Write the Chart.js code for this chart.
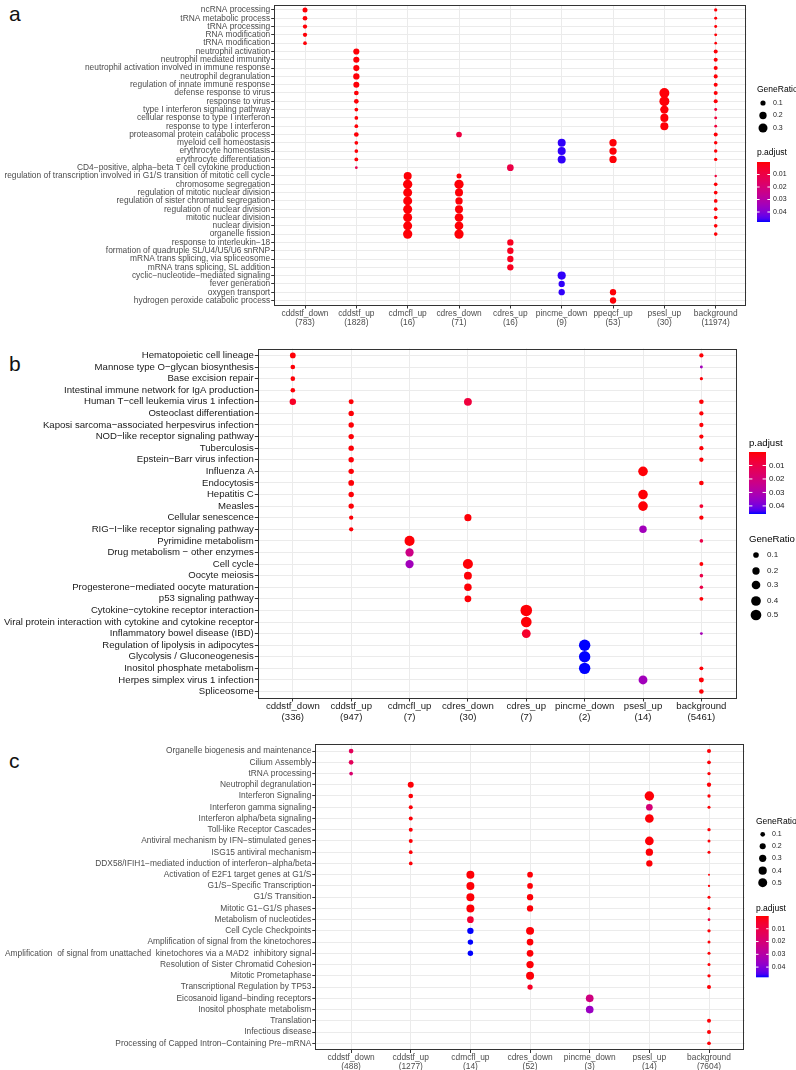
<!DOCTYPE html>
<html>
<head>
<meta charset="utf-8">
<script src="https://cdn.jsdelivr.net/npm/chart.js@4.4.0/dist/chart.umd.min.js"></script>
<style>
  body { margin: 0; background: #fff; width: 796px; height: 1070px; position: relative; overflow: hidden; }
  .panel { position: absolute; left: 0; width: 796px; }
  .tag { position: absolute; font-family: "Liberation Sans", Arial, sans-serif; font-size: 21px; color: #111; line-height: 1; }
</style>
</head>
<body>
<div class="tag" style="left:9px;top:3px">a</div>
<div class="tag" style="left:9px;top:353px">b</div>
<div class="tag" style="left:9px;top:750px">c</div>
<div class="panel" style="top:0;height:335px"><canvas id="chartA"></canvas></div>
<div class="panel" style="top:340px;height:385px"><canvas id="chartB"></canvas></div>
<div class="panel" style="top:735px;height:335px"><canvas id="chartC"></canvas></div>
<script>
// ---------- panel a : GO terms ----------
const aTerms = [
  'ncRNA processing', 'tRNA metabolic process', 'tRNA processing', 'RNA modification', 'tRNA modification',
  'neutrophil activation', 'neutrophil mediated immunity', 'neutrophil activation involved in immune response',
  'neutrophil degranulation', 'regulation of innate immune response', 'defense response to virus',
  'response to virus', 'type I interferon signaling pathway', 'cellular response to type I interferon',
  'response to type I interferon', 'proteasomal protein catabolic process', 'myeloid cell homeostasis',
  'erythrocyte homeostasis', 'erythrocyte differentiation', 'CD4−positive, alpha−beta T cell cytokine production',
  'regulation of transcription involved in G1/S transition of mitotic cell cycle', 'chromosome segregation',
  'regulation of mitotic nuclear division', 'regulation of sister chromatid segregation',
  'regulation of nuclear division', 'mitotic nuclear division', 'nuclear division', 'organelle fission',
  'response to interleukin−18', 'formation of quadruple SL/U4/U5/U6 snRNP', 'mRNA trans splicing, via spliceosome',
  'mRNA trans splicing, SL addition', 'cyclic−nucleotide−mediated signaling', 'fever generation',
  'oxygen transport', 'hydrogen peroxide catabolic process'
];
const aGroups = ['cddstf_down', 'cddstf_up', 'cdmcfl_up', 'cdres_down', 'cdres_up', 'pincme_down', 'ppeqcf_up', 'psesl_up', 'background'];
const aGroupN = [783, 1828, 16, 71, 16, 9, 53, 30, 11974];
// [group, term, GeneRatio, p.adjust]
const aDots = [
  [0, 0, 0.093, 0.0005], [0, 1, 0.082, 0.0005], [0, 2, 0.069, 0.0005], [0, 3, 0.069, 0.0005], [0, 4, 0.051, 0.0005],
  [1, 5, 0.14, 0.0005], [1, 6, 0.14, 0.0005], [1, 7, 0.14, 0.0005], [1, 8, 0.148, 0.0005], [1, 9, 0.134, 0.0005],
  [1, 10, 0.082, 0.0005], [1, 11, 0.082, 0.0005], [1, 12, 0.051, 0.0005], [1, 13, 0.051, 0.0005], [1, 14, 0.051, 0.0005],
  [1, 15, 0.082, 0.0005], [1, 16, 0.051, 0.0005], [1, 17, 0.051, 0.0005], [1, 18, 0.055, 0.0005], [1, 19, 0.027, 0.012],
  [2, 20, 0.238, 0.0005], [2, 21, 0.32, 0.0005], [2, 22, 0.30, 0.0005], [2, 23, 0.30, 0.0005], [2, 24, 0.30, 0.0005],
  [2, 25, 0.30, 0.0005], [2, 26, 0.30, 0.0005], [2, 27, 0.32, 0.0005],
  [3, 15, 0.12, 0.009], [3, 20, 0.093, 0.0005], [3, 21, 0.32, 0.0005], [3, 22, 0.238, 0.0005], [3, 23, 0.2, 0.0005],
  [3, 24, 0.238, 0.0005], [3, 25, 0.28, 0.0005], [3, 26, 0.28, 0.0005], [3, 27, 0.32, 0.0005],
  [4, 19, 0.167, 0.01], [4, 28, 0.15, 0.003], [4, 29, 0.15, 0.003], [4, 30, 0.15, 0.003], [4, 31, 0.15, 0.003],
  [5, 16, 0.238, 0.047], [5, 17, 0.238, 0.047], [5, 18, 0.238, 0.047], [5, 32, 0.25, 0.047], [5, 33, 0.148, 0.047], [5, 34, 0.148, 0.047],
  [6, 16, 0.2, 0.0005], [6, 17, 0.2, 0.0005], [6, 18, 0.2, 0.0005], [6, 34, 0.148, 0.0005], [6, 35, 0.148, 0.0005],
  [7, 10, 0.37, 0.0005], [7, 11, 0.37, 0.0005], [7, 12, 0.26, 0.0005], [7, 13, 0.24, 0.0005], [7, 14, 0.24, 0.0005],
  [8, 0, 0.04, 0.0005], [8, 1, 0.033, 0.0005], [8, 2, 0.033, 0.0005], [8, 3, 0.033, 0.0005], [8, 4, 0.027, 0.0005],
  [8, 5, 0.06, 0.0005], [8, 6, 0.06, 0.0005], [8, 7, 0.06, 0.0005], [8, 8, 0.06, 0.0005], [8, 9, 0.06, 0.0005],
  [8, 10, 0.06, 0.0005], [8, 11, 0.06, 0.0005], [8, 12, 0.033, 0.008], [8, 13, 0.03, 0.008], [8, 14, 0.03, 0.008],
  [8, 15, 0.06, 0.0005], [8, 16, 0.045, 0.0005], [8, 17, 0.045, 0.0005], [8, 18, 0.04, 0.0005], [8, 20, 0.022, 0.008],
  [8, 21, 0.05, 0.0005], [8, 22, 0.05, 0.0005], [8, 23, 0.05, 0.0005], [8, 24, 0.05, 0.0005], [8, 25, 0.05, 0.0005],
  [8, 26, 0.05, 0.0005], [8, 27, 0.05, 0.0005]
];
const aRatioBreaks = [0.1, 0.2, 0.3];

// ---------- panel b : KEGG pathways ----------
const bTerms = [
  'Hematopoietic cell lineage', 'Mannose type O−glycan biosynthesis', 'Base excision repair',
  'Intestinal immune network for IgA production', 'Human T−cell leukemia virus 1 infection',
  'Osteoclast differentiation', 'Kaposi sarcoma−associated herpesvirus infection',
  'NOD−like receptor signaling pathway', 'Tuberculosis', 'Epstein−Barr virus infection', 'Influenza A',
  'Endocytosis', 'Hepatitis C', 'Measles', 'Cellular senescence', 'RIG−I−like receptor signaling pathway',
  'Pyrimidine metabolism', 'Drug metabolism − other enzymes', 'Cell cycle', 'Oocyte meiosis',
  'Progesterone−mediated oocyte maturation', 'p53 signaling pathway', 'Cytokine−cytokine receptor interaction',
  'Viral protein interaction with cytokine and cytokine receptor', 'Inflammatory bowel disease (IBD)',
  'Regulation of lipolysis in adipocytes', 'Glycolysis / Gluconeogenesis', 'Inositol phosphate metabolism',
  'Herpes simplex virus 1 infection', 'Spliceosome'
];
const bGroups = ['cddstf_down', 'cddstf_up', 'cdmcfl_up', 'cdres_down', 'cdres_up', 'pincme_down', 'psesl_up', 'background'];
const bGroupN = [336, 947, 7, 30, 7, 2, 14, 5461];
const bDots = [
  [0, 0, 0.104, 0.0005], [0, 1, 0.057, 0.0005], [0, 2, 0.057, 0.0005], [0, 3, 0.057, 0.0005], [0, 4, 0.142, 0.004],
  [1, 4, 0.072, 0.0005], [1, 5, 0.09, 0.0005], [1, 6, 0.09, 0.0005], [1, 7, 0.09, 0.0005], [1, 8, 0.09, 0.0005],
  [1, 9, 0.09, 0.0005], [1, 10, 0.09, 0.0005], [1, 11, 0.104, 0.0005], [1, 12, 0.09, 0.0005], [1, 13, 0.09, 0.0005],
  [1, 14, 0.046, 0.0005], [1, 15, 0.046, 0.0005],
  [2, 16, 0.43, 0.0005], [2, 17, 0.27, 0.022], [2, 18, 0.27, 0.033],
  [3, 4, 0.24, 0.008], [3, 14, 0.19, 0.0005], [3, 18, 0.43, 0.0005], [3, 19, 0.24, 0.0005], [3, 20, 0.21, 0.0005], [3, 21, 0.166, 0.0005],
  [4, 22, 0.6, 0.0005], [4, 23, 0.5, 0.0005], [4, 24, 0.32, 0.005],
  [5, 25, 0.58, 0.046], [5, 26, 0.58, 0.046], [5, 27, 0.58, 0.046],
  [6, 10, 0.39, 0.0005], [6, 12, 0.39, 0.0005], [6, 13, 0.39, 0.0005], [6, 15, 0.21, 0.033], [6, 28, 0.32, 0.033],
  [7, 0, 0.046, 0.0005], [7, 1, 0.012, 0.033], [7, 2, 0.017, 0.0005], [7, 4, 0.057, 0.0005], [7, 5, 0.046, 0.0005],
  [7, 6, 0.046, 0.0005], [7, 7, 0.046, 0.0005], [7, 8, 0.046, 0.0005], [7, 9, 0.046, 0.0005], [7, 11, 0.057, 0.0005],
  [7, 13, 0.034, 0.006], [7, 14, 0.046, 0.0005], [7, 16, 0.026, 0.01], [7, 18, 0.034, 0.0005], [7, 19, 0.026, 0.01],
  [7, 20, 0.026, 0.01], [7, 21, 0.034, 0.0005], [7, 24, 0.012, 0.032], [7, 27, 0.034, 0.0005], [7, 28, 0.072, 0.0005],
  [7, 29, 0.057, 0.0005]
];
const bRatioBreaks = [0.1, 0.2, 0.3, 0.4, 0.5];

// ---------- panel c : Reactome pathways ----------
const cTerms = [
  'Organelle biogenesis and maintenance', 'Cilium Assembly', 'tRNA processing', 'Neutrophil degranulation',
  'Interferon Signaling', 'Interferon gamma signaling', 'Interferon alpha/beta signaling', 'Toll-like Receptor Cascades',
  'Antiviral mechanism by IFN−stimulated genes', 'ISG15 antiviral mechanism',
  'DDX58/IFIH1−mediated induction of interferon−alpha/beta', 'Activation of E2F1 target genes at G1/S',
  'G1/S−Specific Transcription', 'G1/S Transition', 'Mitotic G1−G1/S phases', 'Metabolism of nucleotides',
  'Cell Cycle Checkpoints', 'Amplification of signal from the kinetochores',
  'Amplification  of signal from unattached  kinetochores via a MAD2  inhibitory signal',
  'Resolution of Sister Chromatid Cohesion', 'Mitotic Prometaphase', 'Transcriptional Regulation by TP53',
  'Eicosanoid ligand−binding receptors', 'Inositol phosphate metabolism', 'Translation', 'Infectious disease',
  'Processing of Capped Intron−Containing Pre−mRNA'
];
const cGroups = ['cddstf_down', 'cddstf_up', 'cdmcfl_up', 'cdres_down', 'pincme_down', 'psesl_up', 'background'];
const cGroupN = [488, 1277, 14, 52, 3, 14, 7604];
const cDots = [
  [0, 0, 0.101, 0.014], [0, 1, 0.101, 0.014], [0, 2, 0.052, 0.018],
  [1, 3, 0.19, 0.0005], [1, 4, 0.101, 0.0005], [1, 5, 0.065, 0.0005], [1, 6, 0.065, 0.0005], [1, 7, 0.065, 0.0005],
  [1, 8, 0.065, 0.0005], [1, 9, 0.052, 0.0005], [1, 10, 0.052, 0.0005],
  [2, 11, 0.38, 0.0005], [2, 12, 0.38, 0.0005], [2, 13, 0.38, 0.0005], [2, 14, 0.38, 0.0005], [2, 15, 0.25, 0.006],
  [2, 16, 0.22, 0.048], [2, 17, 0.15, 0.048], [2, 18, 0.15, 0.048],
  [3, 11, 0.167, 0.0005], [3, 12, 0.167, 0.0005], [3, 13, 0.215, 0.0005], [3, 14, 0.215, 0.0005], [3, 16, 0.38, 0.0005],
  [3, 17, 0.25, 0.0005], [3, 18, 0.25, 0.0005], [3, 19, 0.31, 0.0005], [3, 20, 0.38, 0.0005], [3, 21, 0.139, 0.004],
  [4, 22, 0.35, 0.022], [4, 23, 0.35, 0.036],
  [5, 4, 0.57, 0.0005], [5, 5, 0.25, 0.02], [5, 6, 0.465, 0.0005], [5, 8, 0.465, 0.0005], [5, 9, 0.31, 0.0005], [5, 10, 0.215, 0.0005],
  [6, 0, 0.065, 0.0005], [6, 1, 0.052, 0.0005], [6, 2, 0.036, 0.0005], [6, 3, 0.08, 0.0005], [6, 4, 0.036, 0.0005],
  [6, 5, 0.027, 0.0005], [6, 7, 0.036, 0.0005], [6, 8, 0.027, 0.0005], [6, 9, 0.027, 0.0005], [6, 11, 0.005, 0.0005],
  [6, 12, 0.01, 0.0005], [6, 13, 0.027, 0.0005], [6, 14, 0.027, 0.0005], [6, 15, 0.019, 0.008], [6, 16, 0.036, 0.0005],
  [6, 17, 0.027, 0.0005], [6, 18, 0.027, 0.0005], [6, 19, 0.027, 0.0005], [6, 20, 0.036, 0.0005], [6, 21, 0.065, 0.0005],
  [6, 24, 0.065, 0.0005], [6, 25, 0.065, 0.0005], [6, 26, 0.052, 0.0005]
];
const cRatioBreaks = [0.1, 0.2, 0.3, 0.4, 0.5];

const pBreaks = [0.01, 0.02, 0.03, 0.04];

const FONT = '"Liberation Sans", Arial, sans-serif';

// ggplot-like red -> blue gradient, interpolated in Lab space
const RED_LAB = [53.24, 80.09, 67.20];
const BLUE_LAB = [32.30, 79.19, -107.86];
function labToRgb(L, A, B) {
  const fy = (L + 16) / 116, fx = fy + A / 500, fz = fy - B / 200;
  const inv = t => t > 6 / 29 ? t * t * t : 3 * (6 / 29) * (6 / 29) * (t - 4 / 29);
  const X = 0.95047 * inv(fx), Y = inv(fy), Z = 1.08883 * inv(fz);
  const lin = [
    3.2406 * X - 1.5372 * Y - 0.4986 * Z,
    -0.9689 * X + 1.8758 * Y + 0.0415 * Z,
    0.0557 * X - 0.2040 * Y + 1.0570 * Z
  ];
  return lin.map(c => {
    c = c <= 0.0031308 ? 12.92 * c : 1.055 * Math.pow(c, 1 / 2.4) - 0.055;
    return Math.round(Math.min(1, Math.max(0, c)) * 255);
  });
}
function padjColor(p, lim) {
  const t = Math.min(1, Math.max(0, (p - lim[0]) / (lim[1] - lim[0])));
  const c = labToRgb(...RED_LAB.map((v, i) => v + (BLUE_LAB[i] - v) * t));
  return 'rgb(' + c[0] + ',' + c[1] + ',' + c[2] + ')';
}

// legends + panel border
function extrasPlugin(p) {
  return {
    id: 'extras',
    afterDraw(chart) {
      const ctx = chart.ctx, a = chart.chartArea;
      ctx.save();
      ctx.strokeStyle = '#333333';
      ctx.lineWidth = 1;
      ctx.strokeRect(Math.round(a.left) + 0.5, Math.round(a.top) + 0.5, Math.round(a.right - a.left) - 1, Math.round(a.bottom - a.top) - 1);

      ctx.textBaseline = 'middle';
      ctx.textAlign = 'left';
      // size legend
      const s = p.sizeLegend;
      ctx.fillStyle = '#000';
      ctx.font = p.titleSize + 'px ' + FONT;
      ctx.fillText('GeneRatio', s.x, s.titleY);
      ctx.font = p.labelSize + 'px ' + FONT;
      p.ratioBreaks.forEach((v, i) => {
        ctx.fillStyle = '#000';
        ctx.beginPath();
        ctx.arc(s.dotX, s.ys[i], p.radius(v), 0, Math.PI * 2);
        ctx.fill();
        ctx.fillStyle = '#222';
        ctx.fillText(String(v), s.labelX, s.ys[i]);
      });
      // colour bar
      const c = p.colorBar;
      ctx.fillStyle = '#000';
      ctx.font = p.titleSize + 'px ' + FONT;
      ctx.fillText('p.adjust', c.x, c.titleY);
      const g = ctx.createLinearGradient(0, c.top, 0, c.top + c.h);
      for (let i = 0; i <= 20; i++) {
        const v = p.pLim[0] + (p.pLim[1] - p.pLim[0]) * i / 20;
        g.addColorStop(i / 20, padjColor(v, p.pLim));
      }
      ctx.fillStyle = g;
      ctx.fillRect(c.x, c.top, c.w, c.h);
      ctx.font = p.labelSize + 'px ' + FONT;
      pBreaks.forEach(v => {
        const y = c.top + (v - p.pLim[0]) / (p.pLim[1] - p.pLim[0]) * c.h;
        ctx.strokeStyle = '#fff';
        ctx.beginPath();
        ctx.moveTo(c.x, y); ctx.lineTo(c.x + c.w * 0.2, y);
        ctx.moveTo(c.x + c.w * 0.8, y); ctx.lineTo(c.x + c.w, y);
        ctx.stroke();
        ctx.fillStyle = '#222';
        ctx.fillText(String(v), c.x + c.w + 3, y);
      });
      ctx.restore();
    }
  };
}

function buildChart(id, p) {
  const points = p.dots.map(d => ({ x: d[0], y: d[1], r: p.radius(d[2]), p: d[3] }));
  const tickFont = { family: FONT, size: p.fontSize, lineHeight: p.lineHeight };
  return new Chart(document.getElementById(id), {
    type: 'bubble',
    data: {
      datasets: [{
        data: points,
        backgroundColor: ctx => padjColor(ctx.raw.p, p.pLim),
        borderWidth: 0,
        hoverBorderWidth: 0,
        hoverRadius: 0
      }]
    },
    options: {
      responsive: true,
      maintainAspectRatio: false,
      animation: false,
      events: [],
      layout: { padding: { top: p.top, right: p.right, bottom: 0, left: 0 } },
      plugins: { legend: { display: false }, tooltip: { enabled: false } },
      scales: {
        x: {
          type: 'linear', min: -0.6, max: p.groups.length - 0.4,
          afterBuildTicks: s => { s.ticks = p.groups.map((g, i) => ({ value: i })); },
          afterFit: s => { s.height = p.xAxisH; s.paddingLeft = 0; s.paddingRight = 0; },
          ticks: {
            callback: v => [p.groups[v], '(' + p.groupN[v] + ')'],
            autoSkip: false, maxRotation: 0, minRotation: 0, padding: p.xPad,
            color: p.textColor, font: tickFont
          },
          grid: { color: '#EBEBEB', tickColor: '#333', tickLength: 3, lineWidth: 1 },
          border: { display: false }
        },
        y: {
          type: 'linear', reverse: true, min: -0.6, max: p.terms.length - 0.4,
          afterBuildTicks: s => { s.ticks = p.terms.map((t, i) => ({ value: i })); },
          afterFit: s => { s.width = p.yAxisW; s.paddingTop = 0; s.paddingBottom = 0; },
          ticks: {
            callback: v => p.terms[v],
            autoSkip: false, padding: 1,
            color: p.textColor, font: { family: FONT, size: p.fontSize }
          },
          grid: { color: '#EBEBEB', tickColor: '#333', tickLength: 3, lineWidth: 1 },
          border: { display: false }
        }
      }
    },
    plugins: [extrasPlugin(p)]
  });
}

// panel a
buildChart('chartA', {
  terms: aTerms, groups: aGroups, groupN: aGroupN, dots: aDots, ratioBreaks: aRatioBreaks,
  radius: r => 16.4 * Math.sqrt(r) / 2,
  pLim: [0, 0.048],
  top: 0.7, right: 49.5, yAxisW: 274.2, xAxisH: 29.5, xPad: 0,
  fontSize: 8.4, lineHeight: 1.15, textColor: '#4D4D4D', titleSize: 8.5, labelSize: 7,
  sizeLegend: { x: 757, titleY: 90, dotX: 763, labelX: 773, ys: [103, 115.5, 128] },
  colorBar: { x: 757, titleY: 153, top: 162, h: 60, w: 13 }
});

// panel b
buildChart('chartB', {
  terms: bTerms, groups: bGroups, groupN: bGroupN, dots: bDots, ratioBreaks: bRatioBreaks,
  radius: r => (1.5 + 13 * Math.sqrt(r)) / 2,
  pLim: [0, 0.046],
  top: 8.5, right: 59.6, yAxisW: 257.8, xAxisH: 26.5, xPad: 0,
  fontSize: 9.6, lineHeight: 1.1, textColor: '#1A1A1A', titleSize: 9.6, labelSize: 8,
  sizeLegend: { x: 749, titleY: 199, dotX: 756, labelX: 767, ys: [215, 231, 245, 261, 275] },
  colorBar: { x: 749, titleY: 103.6, top: 112, h: 62, w: 17 }
});

// panel c
buildChart('chartC', {
  terms: cTerms, groups: cGroups, groupN: cGroupN, dots: cDots, ratioBreaks: cRatioBreaks,
  radius: r => (1.2 + 11 * Math.sqrt(r)) / 2,
  pLim: [0, 0.048],
  top: 9.3, right: 51.2, yAxisW: 315.3, xAxisH: 20, xPad: 0,
  fontSize: 8.4, lineHeight: 1.1, textColor: '#4D4D4D', titleSize: 8.5, labelSize: 7,
  sizeLegend: { x: 756, titleY: 86.7, dotX: 762.7, labelX: 772, ys: [99.3, 111.3, 123.3, 135.7, 147.7] },
  colorBar: { x: 756, titleY: 173.3, top: 181, h: 61.3, w: 12.7 }
});
</script>
</body>
</html>
